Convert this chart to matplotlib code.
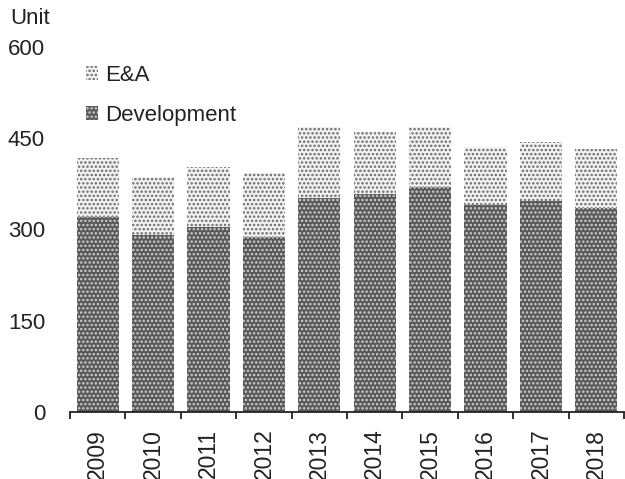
import matplotlib
matplotlib.use("Agg")
import matplotlib.pyplot as plt
from matplotlib.patches import Patch
import numpy as np

years = ["2009", "2010", "2011", "2012", "2013", "2014", "2015", "2016", "2017", "2018"]
development = [320, 291, 304, 287, 352, 358, 370, 340, 347, 335]
exploration = [97, 95, 98, 106, 116, 102, 98, 95, 97, 97]
y_ticks = [0, 150, 300, 450, 600]

plt.rcParams["font.family"] = ["Liberation Sans", "DejaVu Sans"]
plt.rcParams["hatch.linewidth"] = 1.2

fig = plt.figure(figsize=(6.25, 4.79), dpi=100)
ax = fig.add_axes([70 / 625, 67 / 479, 554 / 625, 365 / 479])

x = np.arange(len(years))
width = 0.76
dev_style = dict(facecolor="#585858", edgecolor="#cfcfcf", hatch="....", linewidth=0)
ea_style = dict(facecolor="#f2f2f2", edgecolor="#6a6a6a", hatch="....", linewidth=0)

ax.bar(x, development, width, **dev_style)
ax.bar(x, exploration, width, bottom=development, **ea_style)

ax.set_xlim(-0.5, len(years) - 0.5)
ax.set_ylim(0, 600)
ax.set_yticks(y_ticks)
ax.set_yticklabels([str(v) for v in y_ticks])
ax.tick_params(axis="y", length=0, pad=18, labelsize=16, labelcolor="#222222")

ax.set_xticks(x)
ax.set_xticklabels(years, rotation=90)
ax.tick_params(axis="x", which="major", length=0, pad=12, labelsize=16.5, labelcolor="#222222")
ax.set_xticks(np.arange(-0.5, len(years)), minor=True)
ax.tick_params(axis="x", which="minor", length=5, width=1.3, direction="out", color="#222222")

for side in ("top", "right", "left"):
    ax.spines[side].set_visible(False)
ax.spines["bottom"].set_linewidth(1.3)
ax.spines["bottom"].set_color("#222222")

fig.text(10 / 625, 1 - 18.5 / 479, "Unit", fontsize=16, color="#222222", va="center", ha="left")

handles = [Patch(**ea_style), Patch(**dev_style)]
fig.legend(handles, ["E&A", "Development"], loc="upper left",
           bbox_to_anchor=(86 / 625, 1 - 65 / 479), frameon=False, fontsize=16,
           handlelength=0.55, handleheight=0.55, handletextpad=0.3,
           labelspacing=0.85, borderpad=0, borderaxespad=0, labelcolor="#222222")

fig.savefig("out.png", dpi=100)
